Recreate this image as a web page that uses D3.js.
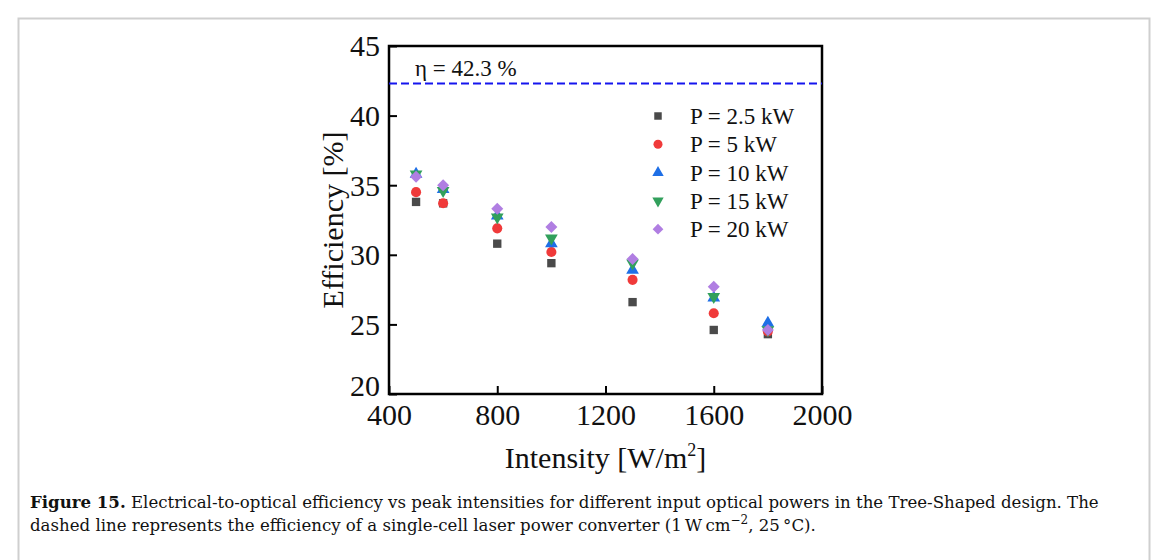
<!DOCTYPE html>
<html>
<head>
<meta charset="utf-8">
<script src="https://cdn.jsdelivr.net/npm/d3@7"></script>
<style>
  body { margin: 0; background: #fff; }
  svg text { font-family: "Liberation Serif", "DejaVu Serif", serif; fill: #111; }
</style>
</head>
<body>
<div id="chart"></div>
<script>
'use strict';
// intensities [W/m2]
const intensities = [500, 600, 800, 1000, 1300, 1600, 1800];
const seriesNames = ['P = 2.5 kW', 'P = 5 kW', 'P = 10 kW', 'P = 15 kW', 'P = 20 kW'];
const eff25 = [33.8, 33.7, 30.8, 29.4, 26.6, 24.6, 24.3];
const eff5 = [34.5, 33.7, 31.9, 30.2, 28.2, 25.8, 24.5];
const eff10 = [35.8, 34.7, 32.8, 30.8, 28.9, 26.9, 25.1];
const eff15 = [35.8, 34.6, 32.7, 31.2, 29.4, 27.0, 24.6];
const eff20 = [35.6, 35.0, 33.3, 32.0, 29.7, 27.7, 24.6];
const xTicks = [400, 800, 1200, 1600, 2000];
const yTicks = [20, 25, 30, 35, 40, 45];
const refEff = 42.3;

const W = 1167, H = 560;
const margin = {top: 46, right: 345, bottom: 166, left: 389};
const width = W - margin.left - margin.right;
const height = H - margin.top - margin.bottom;

const svg = d3.select('#chart').append('svg')
    .attr('width', W)
    .attr('height', H);

// figure frame
svg.append('rect')
    .attr('x', 18.5).attr('y', 18.5)
    .attr('width', 1131).attr('height', 600)
    .attr('fill', 'none')
    .attr('stroke', '#cfcfcf')
    .attr('stroke-width', 2);

const g = svg.append('g')
    .attr('transform', 'translate(' + margin.left + ',' + margin.top + ')');

const x = d3.scaleLinear().domain([400, 2000]).range([0, width]);
const y = d3.scaleLinear().domain([20, 45]).range([height, 0]);

// axes with inward ticks
const xAxis = g.append('g')
    .attr('transform', 'translate(0,' + height + ')')
    .call(d3.axisBottom(x).tickValues(xTicks).tickSize(-8).tickPadding(12).tickFormat(d3.format('d')));
const yAxis = g.append('g')
    .call(d3.axisLeft(y).tickValues(yTicks).tickSize(-8).tickPadding(9));

[xAxis, yAxis].forEach(function (a) {
    a.attr('font-family', null).attr('font-size', null);
    a.select('.domain').remove();
    a.selectAll('line').attr('stroke', '#000').attr('stroke-width', 2);
    a.selectAll('text').style('font-family', '"Liberation Serif", serif').style('font-size', '30px').attr('fill', '#111');
});
xAxis.selectAll('text').attr('dy', '0.62em');
yAxis.selectAll('text').attr('dy', '0.33em');
yAxis.selectAll('.tick').filter(function (d) { return d === 20; }).select('text').attr('dy', '0.05em');

// frame box
g.append('rect')
    .attr('width', width).attr('height', height)
    .attr('fill', 'none')
    .attr('stroke', '#000')
    .attr('stroke-width', 2.5);

// reference line
g.append('line')
    .attr('x1', 0).attr('x2', width)
    .attr('y1', y(refEff)).attr('y2', y(refEff))
    .attr('stroke', '#1515ee')
    .attr('stroke-width', 2)
    .attr('stroke-dasharray', '8,4');
g.append('text')
    .attr('x', 26).attr('y', y(refEff) - 8)
    .style('font-size', '23px')
    .text('η = 42.3 %');

const series = [
    {name: seriesNames[0], values: eff25, color: '#4a4a4a', symbol: d3.symbolSquare, size: 70},
    {name: seriesNames[1], values: eff5, color: '#f03a3a', symbol: d3.symbolCircle, size: 80},
    {name: seriesNames[2], values: eff10, color: '#1e6fe6', symbol: d3.symbolTriangle, size: 70, rot: 0},
    {name: seriesNames[3], values: eff15, color: '#32a05c', symbol: d3.symbolTriangle, size: 70, rot: 180},
    {name: seriesNames[4], values: eff20, color: '#b07ee2', symbol: d3.symbolSquare, size: 72, rot: 45}
];

series.forEach(function (s) {
    const path = d3.symbol().type(s.symbol).size(s.size)();
    g.append('g').selectAll('path')
        .data(s.values)
        .enter()
        .append('path')
        .attr('d', path)
        .attr('fill', s.color)
        .attr('transform', function (d, i) {
            return 'translate(' + x(intensities[i]) + ',' + y(d) + ')' + (s.rot ? ' rotate(' + s.rot + ')' : '');
        });
});

// legend
const legend = g.append('g').attr('transform', 'translate(269,70)');
series.forEach(function (s, i) {
    const row = legend.append('g').attr('transform', 'translate(0,' + (i * 28.3) + ')');
    row.append('path')
        .attr('d', d3.symbol().type(s.symbol).size(s.size * 0.8)())
        .attr('fill', s.color)
        .attr('transform', s.rot ? 'rotate(' + s.rot + ')' : null);
    row.append('text')
        .attr('x', 32).attr('y', 0).attr('dy', '0.35em')
        .style('font-size', '23px')
        .text(s.name);
});

// axis titles
svg.append('text')
    .attr('transform', 'translate(343,' + (margin.top + height / 2) + ') rotate(-90)')
    .attr('text-anchor', 'middle')
    .style('font-size', '30px')
    .text('Efficiency [%]');

const xl = svg.append('text')
    .attr('x', margin.left + width / 2).attr('y', 468)
    .attr('text-anchor', 'middle')
    .style('font-size', '30px');
xl.append('tspan').text('Intensity [W/m');
xl.append('tspan').attr('dy', -12).style('font-size', '18px').text('2');
xl.append('tspan').attr('dy', 12).text(']');

// caption
const cap = svg.append('g')
    .style('font-size', '16.6px');
const l1 = cap.append('text').attr('x', 30).attr('y', 508).style('font-family', '"DejaVu Serif", serif');
l1.append('tspan').style('font-weight', 'bold').text('Figure 15.');
l1.append('tspan').text(' Electrical-to-optical efficiency vs peak intensities for different input optical powers in the Tree-Shaped design. The');
const l2 = cap.append('text').attr('x', 30).attr('y', 531).style('font-family', '"DejaVu Serif", serif');
l2.append('tspan').text('dashed line represents the efficiency of a single-cell laser power converter (1\u2009W\u2009cm');
l2.append('tspan').attr('dy', -7).style('font-size', '12px').text('\u22122');
l2.append('tspan').attr('dy', 7).text(', 25\u2009\u00b0C).');
</script>
</body>
</html>
